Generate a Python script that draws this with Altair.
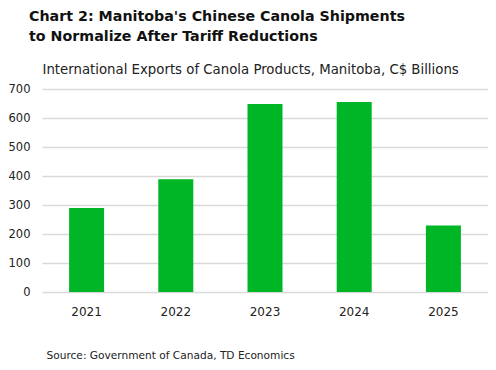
import altair as alt
import pandas as pd

years = ["2021", "2022", "2023", "2024", "2025"]
values = [290, 389, 648, 655, 229]
y_ticks = [0, 100, 200, 300, 400, 500, 600, 700]

title_lines = ["Chart 2: Manitoba's Chinese Canola Shipments", "to Normalize After Tariff Reductions"]
subtitle = "International Exports of Canola Products, Manitoba, C$ Billions"
source = "Source: Government of Canada, TD Economics"

df = pd.DataFrame({"year": years, "value": values})
FONT = "DejaVu Sans"

chart = alt.Chart(df).mark_bar(color="#00B526", size=35).encode(
    x=alt.X("year:N", sort=years,
            scale=alt.Scale(paddingInner=0.0, paddingOuter=0.0),
            axis=alt.Axis(title=source, labelAngle=0, labelFontSize=12, labelColor="#222",
                          labelFont=FONT, labelPadding=14.5, ticks=False, domain=False,
                          titleFont=FONT, titleFontSize=10.6, titleFontWeight="normal",
                          titleColor="#222", titleAnchor="start", titleAlign="left",
                          titleX=4, titleY=66, titleBaseline="alphabetic")),
    y=alt.Y("value:Q", scale=alt.Scale(domain=[0, 700], nice=False),
            axis=alt.Axis(values=y_ticks, title=subtitle, labelFontSize=11.5, labelColor="#222",
                          labelFont=FONT, labelPadding=12, ticks=False, domain=False,
                          gridColor="#d9d9d9", gridWidth=1.5,
                          titleAngle=0, titleAlign="left", titleAnchor="end",
                          titleX=0, titleY=-16, titleBaseline="alphabetic",
                          titleFont=FONT, titleFontSize=13.3, titleFontWeight="normal",
                          titleColor="#222", minExtent=34, maxExtent=34)),
).properties(
    width=446, height=203,
    padding={"left": 0, "top": 1, "right": 0, "bottom": 0},
    title=alt.Title(title_lines, anchor="start", frame="group", dx=-13,
                    font=FONT, fontSize=14.25, fontWeight="bold", color="#111",
                    lineHeight=20, offset=18),
).configure_view(stroke=None)

chart.save("out.html", embed_options={"renderer": "svg", "actions": False})
